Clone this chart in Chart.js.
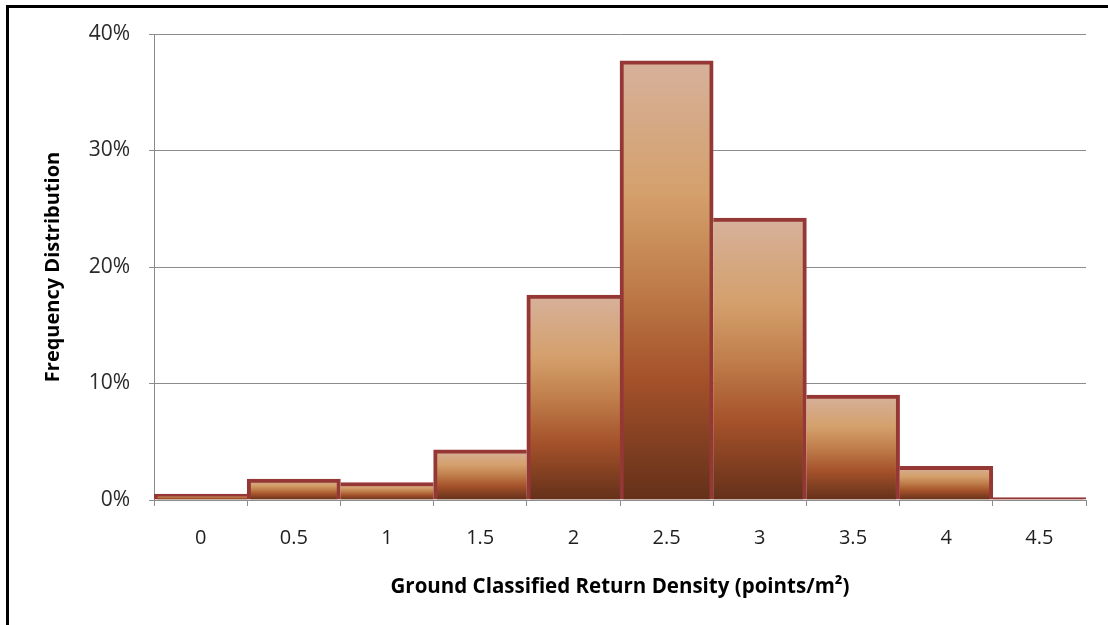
<!DOCTYPE html>
<html>
<head>
<meta charset="utf-8">
<script src="https://cdn.jsdelivr.net/npm/chart.js@4.4.1/dist/chart.umd.min.js"></script>
<style>
  html, body { margin: 0; padding: 0; background: #ffffff; }
  #wrap { position: relative; width: 1108px; height: 625px; overflow: hidden; }
  #frame { position: absolute; left: 6px; top: 5px; width: 1200px; height: 700px;
           border-left: 3px solid #000; border-top: 3px solid #000; box-sizing: border-box; }
  canvas { position: absolute; left: 0; top: 0; }
</style>
</head>
<body>
<div id="wrap">
  <div id="frame"></div>
  <canvas id="c" width="1108" height="625"></canvas>
</div>
<script>
// Density classes (points/m²) and share of cells falling in each class (%)
const densityClasses = ['0', '0.5', '1', '1.5', '2', '2.5', '3', '3.5', '4', '4.5'];
const frequencyPct = [0.5, 1.8, 1.5, 4.3, 17.6, 37.7, 24.2, 9.0, 2.9, 0.2];
const yTicksPct = [0, 10, 20, 30, 40];

const xTitle = 'Ground Classified Return Density (points/m²)';
const yTitle = 'Frequency Distribution';

const FONT = '"Open Sans", "Liberation Sans", sans-serif';
const EDGE = 4;
const OUTLINE = '#953735';

// Vertical bronze gradient, spanning each bar from its top to the baseline.
// Bars only a few pixels high are just their outline.
function barGradient(ctx) {
  const chart = ctx.chart;
  if (ctx.type !== 'data' || !chart.chartArea) return '#c07f4c';
  const ys = chart.scales.y;
  const top = ys.getPixelForValue(ctx.raw);
  const bottom = ys.getPixelForValue(0);
  if (!isFinite(top) || !isFinite(bottom)) return '#c07f4c';
  if (bottom - top < EDGE) return OUTLINE;
  const g = chart.ctx.createLinearGradient(0, top, 0, bottom);
  g.addColorStop(0.0, '#d6b19b');
  g.addColorStop(0.3, '#d4a06c');
  g.addColorStop(0.5, '#c07f4c');
  g.addColorStop(0.72, '#a5522a');
  g.addColorStop(1.0, '#64301a');
  return g;
}

// Shared sides between adjacent bars are outlined once, by the taller bar
function barBorder(ctx) {
  if (ctx.type !== 'data') return EDGE;
  const i = ctx.dataIndex;
  const v = frequencyPct[i];
  const prev = i > 0 ? frequencyPct[i - 1] : -1;
  const next = i < frequencyPct.length - 1 ? frequencyPct[i + 1] : -1;
  return {
    top: EDGE,
    bottom: 0,
    left: prev < v ? EDGE : 0,
    right: next <= v ? EDGE : 0
  };
}

new Chart(document.getElementById('c'), {
  type: 'bar',
  data: {
    labels: densityClasses,
    datasets: [{
      data: frequencyPct,
      backgroundColor: barGradient,
      borderColor: OUTLINE,
      borderWidth: barBorder,
      borderSkipped: 'start',
      categoryPercentage: 1.0,
      barPercentage: 1.0
    }]
  },
  options: {
    responsive: false,
    devicePixelRatio: 1,
    animation: false,
    layout: { padding: { left: 0, top: 34, right: 22, bottom: 0 } },
    plugins: { legend: { display: false }, tooltip: { enabled: false } },
    scales: {
      x: {
        grid: {
          display: true, drawOnChartArea: false, drawTicks: true,
          tickLength: 6, offset: true, color: '#8c8c8c', lineWidth: 1
        },
        border: { display: true, color: '#8c8c8c', width: 1 },
        ticks: { color: '#1e1e1e', padding: 20, font: { family: FONT, size: 20 } },
        title: {
          display: true, text: xTitle, color: '#000',
          font: { family: FONT, size: 20.5, weight: 'bold' },
          padding: { top: 0, bottom: 26 }
        },
        afterFit: (s) => { s.height = 125; }
      },
      y: {
        min: 0, max: 40,
        afterBuildTicks: (s) => { s.ticks = yTicksPct.map(v => ({ value: v })); },
        grid: {
          display: true, drawOnChartArea: true, drawTicks: true,
          tickLength: 5, color: '#8c8c8c', lineWidth: 1
        },
        border: { display: true, color: '#8c8c8c', width: 1 },
        ticks: {
          color: '#2a2a2a', padding: 19,
          font: { family: FONT, size: 21 },
          callback: (v) => v + '%'
        },
        title: {
          display: true, text: yTitle, color: '#000',
          font: { family: FONT, size: 20, weight: 'bold' },
          padding: { top: 41, bottom: 0 }
        },
        afterFit: (s) => { s.width = 154; }
      }
    }
  }
});
</script>
</body>
</html>
